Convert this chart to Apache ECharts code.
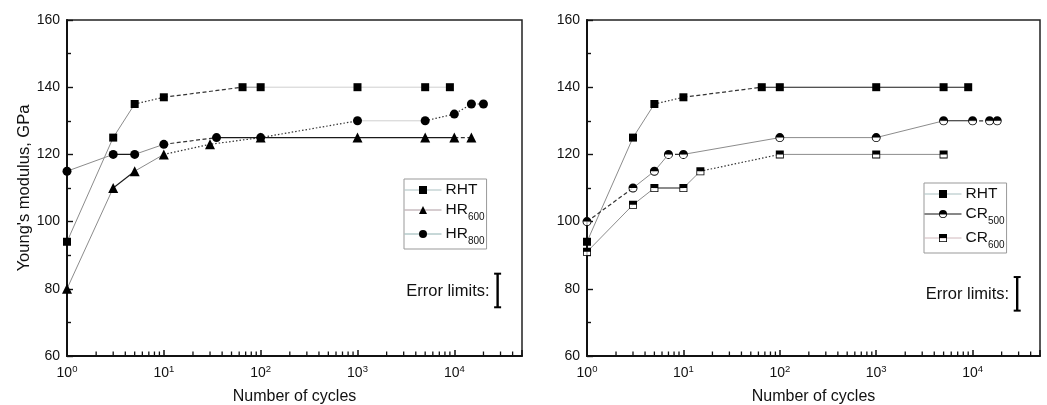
<!DOCTYPE html>
<html><head><meta charset="utf-8">
<script src="https://cdn.jsdelivr.net/npm/echarts@6/dist/echarts.min.js"></script>
<style>html,body{margin:0;padding:0;background:#fff}#c{width:1047px;height:405px}</style>
</head><body><div id="c"></div>
<script>
// ---------- data ----------
const yMin = 60, yMax = 160, yStep = 20;
const xMin = 1, xMax = 50000;

// Left panel
const L_RHT_N   = [1, 3, 5, 10, 65, 100, 1000, 5000, 9000];
const L_RHT_E   = [94, 125, 135, 137, 140, 140, 140, 140, 140];
const L_HR600_N = [1, 3, 5, 10, 30, 100, 1000, 5000, 10000, 15000];
const L_HR600_E = [80, 110, 115, 120, 123, 125, 125, 125, 125, 125];
const L_HR800_N = [1, 3, 5, 10, 35, 100, 1000, 5000, 10000, 15000, 20000];
const L_HR800_E = [115, 120, 120, 123, 125, 125, 130, 130, 132, 135, 135];

// Right panel
const R_RHT_N   = [1, 3, 5, 10, 65, 100, 1000, 5000, 9000];
const R_RHT_E   = [94, 125, 135, 137, 140, 140, 140, 140, 140];
const R_CR500_N = [1, 3, 5, 7, 10, 100, 1000, 5000, 10000, 15000, 18000];
const R_CR500_E = [100, 110, 115, 120, 120, 125, 125, 130, 130, 130, 130];
const R_CR600_N = [1, 3, 5, 10, 15, 100, 1000, 5000];
const R_CR600_E = [91, 105, 110, 110, 115, 120, 120, 120];

// error-limit indicators: [cycles position, low, high]
const L_ERR = [28000, 74.5, 84.5];
const R_ERR = [29000, 73.5, 83.5];

// segment line styles (g grey, k dark, d dotted, a dashed, l light)
const L_RHT_S   = ['g','g','d','a','g','l','l','l'];
const L_HR600_S = ['g','k','g','d','d','k','k','k','a'];
const L_HR800_S = ['g','k','g','a','k','d','l','d','d','d'];
const R_RHT_S   = ['g','g','d','a','k','k','k','k'];
const R_CR500_S = ['a','g','g','a','g','g','g','k','a','k'];
const R_CR600_S = ['g','g','k','g','d','g','g'];

// minor log ticks
const xMinor = [];
for (let e = 0; e <= 4; e++) for (let m = 2; m <= 9; m++) { const v = m * Math.pow(10, e); if (v < xMax) xMinor.push(v); }

// ---------- styles ----------
const FONT = 'Arial, "Liberation Sans", sans-serif';
const STY = {
  g: {color: '#8c8c8c', width: 1, type: 'solid'},
  k: {color: '#1a1a1a', width: 1.1, type: 'solid'},
  d: {color: '#333', width: 1.2, type: [1.5, 2]},
  a: {color: '#333', width: 1.2, type: [4, 2.5]},
  l: {color: '#cfcfcf', width: 1, type: 'solid'}
};
const HALF_CIRCLE = 'path://M0,5 A5,5 0 1,1 10,5 A5,5 0 1,1 0,5 Z M1,5 A4,4 0 1,0 9,5 A4,4 0 1,0 1,5 Z M1,5 A4,4 0 0,1 9,5 Z';
const HALF_SQUARE = 'path://M0,0 L10,0 L10,10 L0,10 Z M1,1 L1,9 L9,9 L9,1 Z M1,1 L9,1 L9,5 L1,5 Z';

function zip(a, b) { return a.map((v, i) => [v, b[i]]); }

function segSeries(idx, N, E, styles) {
  const out = [];
  let start = 0;
  for (let i = 1; i <= styles.length; i++) {
    if (i === styles.length || styles[i] !== styles[start]) {
      const pts = [];
      for (let j = start; j <= i; j++) pts.push([N[j], E[j]]);
      out.push({type: 'line', xAxisIndex: idx, yAxisIndex: idx, data: pts, symbol: 'none',
        silent: true, z: 2, lineStyle: STY[styles[start]], animation: false});
      start = i;
    }
  }
  return out;
}

function markerSeries(idx, name, N, E, symbol, size) {
  return {type: 'line', name: name, xAxisIndex: idx, yAxisIndex: idx, data: zip(N, E),
    symbol: symbol, symbolSize: size, showSymbol: true, itemStyle: {color: '#000'},
    lineStyle: {opacity: 0, width: 0}, z: 6, animation: false, silent: true};
}
function underlay(idx, N, E, symbol, size) {
  return {type: 'scatter', xAxisIndex: idx, yAxisIndex: idx, data: zip(N, E),
    symbol: symbol, symbolSize: size, itemStyle: {color: '#fff'}, z: 5, animation: false, silent: true};
}

function minorTickSeries(idx) {
  return {type: 'custom', xAxisIndex: idx, yAxisIndex: idx, silent: true, z: 20, animation: false,
    clip: false, data: xMinor.map(v => [v, yMin]),
    renderItem: function (params, api) {
      const p = api.coord([api.value(0), api.value(1)]);
      return {type: 'line', shape: {x1: p[0], y1: p[1] - 1, x2: p[0], y2: p[1] - 4.5},
        style: {stroke: '#111', lineWidth: 1.3}};
    }};
}

function errSeries(idx, err) {
  return {type: 'custom', xAxisIndex: idx, yAxisIndex: idx, silent: true, z: 7, animation: false,
    clip: false, data: [err],
    renderItem: function (params, api) {
      const top = api.coord([api.value(0), api.value(2)]);
      const bot = api.coord([api.value(0), api.value(1)]);
      const x = top[0];
      return {type: 'group', children: [
        {type: 'line', shape: {x1: x, y1: top[1], x2: x, y2: bot[1]}, style: {stroke: '#000', lineWidth: 2.4}},
        {type: 'line', shape: {x1: x - 3.5, y1: top[1], x2: x + 3.5, y2: top[1]}, style: {stroke: '#000', lineWidth: 2}},
        {type: 'line', shape: {x1: x - 3.5, y1: bot[1], x2: x + 3.5, y2: bot[1]}, style: {stroke: '#000', lineWidth: 2}},
        {type: 'text', style: {text: 'Error limits:', x: x - 8, y: (top[1] + bot[1]) / 2 + 1,
          align: 'right', verticalAlign: 'middle', font: '16.5px ' + FONT, fill: '#111'}}
      ]};
    }};
}

function xAxisCfg(idx) {
  return {type: 'log', logBase: 10, gridIndex: idx, min: xMin, max: xMax,
    name: 'Number of cycles', nameLocation: 'middle', nameGap: 33,
    nameTextStyle: {fontSize: 16, fontFamily: FONT, color: '#111'},
    axisLine: {show: true, lineStyle: {color: '#111', width: 2}},
    axisTick: {show: true, inside: true, length: 6, lineStyle: {color: '#111', width: 1.5}},
    minorTick: {show: false}, splitLine: {show: false}, minorSplitLine: {show: false},
    axisLabel: {margin: 8, color: '#111', fontFamily: FONT,
      formatter: function (v) {
        const e = Math.log10(v);
        if (Math.abs(e - Math.round(e)) > 1e-6) return '';
        return '{b|10}{s|' + Math.round(e) + '}';
      },
      rich: {b: {fontSize: 14, lineHeight: 18, fontFamily: FONT, color: '#111'},
             s: {fontSize: 9.5, lineHeight: 11, verticalAlign: 'top', fontFamily: FONT, color: '#111'}}}
  };
}
function yAxisCfg(idx, withName) {
  const c = {type: 'value', gridIndex: idx, min: yMin, max: yMax, interval: yStep,
    axisLine: {show: true, lineStyle: {color: '#111', width: 2}},
    axisTick: {show: true, inside: true, length: 6, lineStyle: {color: '#111', width: 1.4}},
    minorTick: {show: true, splitNumber: 2, length: 4, lineStyle: {color: '#111', width: 1.4}},
    splitLine: {show: false},
    axisLabel: {fontSize: 14, margin: 7, color: '#111', fontFamily: FONT}};
  if (withName) {
    c.name = "Young's modulus, GPa"; c.nameLocation = 'middle'; c.nameGap = 34;
    c.nameTextStyle = {fontSize: 16.5, fontFamily: FONT, color: '#111'};
  }
  return c;
}

const LABELS = {
  RHT_L: '{m|RHT}', HR600: '{m|HR}{s|600}', HR800: '{m|HR}{s|800}',
  RHT_R: '{m|RHT}', CR500: '{m|CR}{s|500}', CR600: '{m|CR}{s|600}'
};
function legendCfg(left, top, items) {
  return {orient: 'vertical', left: left, top: top, itemWidth: 37, itemHeight: 10, itemGap: 4,
    padding: [3, 2, 3, 0], borderColor: '#999', borderWidth: 1, selectedMode: false,
    data: items,
    formatter: function (n) { return LABELS[n]; },
    textStyle: {fontFamily: FONT, color: '#111', padding: [0, 0, 0, -1],
      rich: {m: {fontSize: 15.5, lineHeight: 18, fontFamily: FONT, color: '#111'},
             s: {fontSize: 10, lineHeight: 10, verticalAlign: 'bottom', fontFamily: FONT, color: '#111', padding: [0, 0, -3, 0]}}}};
}

const series = [].concat(
  segSeries(0, L_RHT_N, L_RHT_E, L_RHT_S),
  segSeries(0, L_HR600_N, L_HR600_E, L_HR600_S),
  segSeries(0, L_HR800_N, L_HR800_E, L_HR800_S),
  segSeries(1, R_RHT_N, R_RHT_E, R_RHT_S),
  segSeries(1, R_CR500_N, R_CR500_E, R_CR500_S),
  segSeries(1, R_CR600_N, R_CR600_E, R_CR600_S),
  [
    markerSeries(0, 'RHT_L', L_RHT_N, L_RHT_E, 'rect', 8),
    markerSeries(0, 'HR600', L_HR600_N, L_HR600_E, 'triangle', 10),
    markerSeries(0, 'HR800', L_HR800_N, L_HR800_E, 'circle', 9),
    markerSeries(1, 'RHT_R', R_RHT_N, R_RHT_E, 'rect', 8),
    underlay(1, R_CR500_N, R_CR500_E, 'circle', 8),
    markerSeries(1, 'CR500', R_CR500_N, R_CR500_E, HALF_CIRCLE, 9),
    underlay(1, R_CR600_N, R_CR600_E, 'rect', 7),
    markerSeries(1, 'CR600', R_CR600_N, R_CR600_E, HALF_SQUARE, 8),
    minorTickSeries(0), minorTickSeries(1),
    errSeries(0, L_ERR), errSeries(1, R_ERR)
  ]
);

const chart = echarts.init(document.getElementById('c'), null, {renderer: 'canvas'});
chart.setOption({
  animation: false,
  backgroundColor: '#fff',
  textStyle: {fontFamily: FONT},
  grid: [
    {left: 67, top: 20, width: 455, height: 336, show: true, borderColor: '#222', borderWidth: 1.5,
     backgroundColor: 'transparent', containLabel: false, outerBoundsMode: 'none'},
    {left: 587, top: 20, width: 453, height: 336, show: true, borderColor: '#222', borderWidth: 1.5,
     backgroundColor: 'transparent', containLabel: false, outerBoundsMode: 'none'}
  ],
  xAxis: [xAxisCfg(0), xAxisCfg(1)],
  yAxis: [yAxisCfg(0, true), yAxisCfg(1, false)],
  legend: [
    legendCfg(404, 179, [
      {name: 'RHT_L', lineStyle: {color: '#a9bfc0', width: 1, opacity: 1, type: 'solid'}},
      {name: 'HR600', lineStyle: {color: '#ad9aa0', width: 1, opacity: 1, type: 'solid'}},
      {name: 'HR800', lineStyle: {color: '#8fb0b0', width: 1, opacity: 1, type: 'solid'}}
    ]),
    legendCfg(924, 183, [
      {name: 'RHT_R', lineStyle: {color: '#a9bfc0', width: 1, opacity: 1, type: 'solid'}},
      {name: 'CR500', lineStyle: {color: '#111', width: 1, opacity: 1, type: 'solid'}},
      {name: 'CR600', lineStyle: {color: '#d0b8bc', width: 1, opacity: 1, type: 'solid'}}
    ])
  ],
  series: series
});
</script>
</body></html>
